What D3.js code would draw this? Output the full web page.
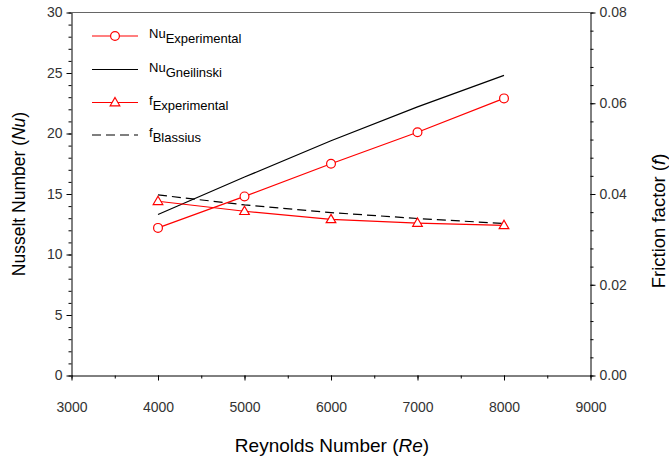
<!DOCTYPE html>
<html><head><meta charset="utf-8">
<script src="https://cdn.jsdelivr.net/npm/d3@7"></script>
<style>body{margin:0;background:#fff}svg{display:block}text{font-family:Arial,"Liberation Sans",sans-serif}</style>
</head><body><svg id="c" width="669" height="457"></svg>
<script>
const reynolds = [4000, 5000, 6000, 7000, 8000];
const nuExperimental = [12.2, 14.8, 17.5, 20.1, 22.9];
const nuGneilinski = [13.3, 16.4, 19.4, 22.2, 24.8];
const fExperimental = [0.0384, 0.0362, 0.0344, 0.0336, 0.0331];
const fBlasius = [0.0398, 0.0376, 0.0359, 0.0346, 0.0335];
const xTicks = [3000, 4000, 5000, 6000, 7000, 8000, 9000];
const nuTicks = [0, 5, 10, 15, 20, 25, 30];
const fTicks = [0, 0.02, 0.04, 0.06, 0.08];

const svg = d3.select("#c");
const L = 71.5, R = 590.5, T = 12.5, B = 375.5;
const x = d3.scaleLinear().domain([3000, 9000]).range([L, R]);
const yN = d3.scaleLinear().domain([0, 30]).range([B, T]);
const yF = d3.scaleLinear().domain([0, 0.08]).range([B, T]);

// top frame
svg.append("line").attr("x1", L).attr("x2", R).attr("y1", T).attr("y2", T).attr("stroke", "#666").attr("stroke-width", 1);

const axisStyle = g => { g.select(".domain").attr("stroke", "#000"); g.selectAll("text").attr("fill", "#333").style("font-size", "14px"); };
// minor ticks
svg.append("g").attr("transform", `translate(${L},0)`).call(d3.axisLeft(yN).tickValues(d3.range(0, 31, 1)).tickSize(3).tickFormat("")).call(g => g.select(".domain").remove());
svg.append("g").attr("transform", `translate(${R},0)`).call(d3.axisRight(yF).tickValues(d3.range(0, 0.0801, 0.004)).tickSize(3).tickFormat("")).call(g => g.select(".domain").remove());
svg.append("g").attr("transform", `translate(0,${B})`).call(d3.axisBottom(x).tickValues(d3.range(3000, 9001, 500)).tickSize(3).tickFormat("")).call(g => g.select(".domain").remove());

svg.append("g").attr("transform", `translate(${L},0)`).call(d3.axisLeft(yN).tickValues(nuTicks).tickSize(5).tickSizeOuter(0).tickPadding(4)).call(axisStyle);
svg.append("g").attr("transform", `translate(${R},0)`).call(d3.axisRight(yF).tickValues(fTicks).tickSize(5).tickSizeOuter(0).tickPadding(4).tickFormat(d3.format(".2f"))).call(axisStyle);
svg.append("g").attr("transform", `translate(0,${B})`).call(d3.axisBottom(x).tickValues(xTicks).tickSize(5).tickSizeOuter(0).tickPadding(22).tickFormat(d3.format("d"))).call(axisStyle);

// titles
const yt = svg.append("text").attr("transform", `translate(24.5,194) rotate(-90)`).attr("text-anchor", "middle").style("font-size", "17.5px").attr("fill", "#000");
yt.append("tspan").text("Nusselt Number (");
yt.append("tspan").text("Nu").style("font-style", "italic");
yt.append("tspan").text(")");
const ft = svg.append("text").attr("transform", `translate(665,221) rotate(-90)`).attr("text-anchor", "middle").style("font-size", "18.5px").attr("fill", "#000");
ft.append("tspan").text("Friction factor (");
ft.append("tspan").text("f").style("font-style", "italic");
ft.append("tspan").text(")");
const xt = svg.append("text").attr("x", 332).attr("y", 452).attr("text-anchor", "middle").style("font-size", "19px").attr("fill", "#000");
xt.append("tspan").text("Reynolds Number (");
xt.append("tspan").text("Re").style("font-style", "italic");
xt.append("tspan").text(")");

// series
const lineN = d3.line().x((d, i) => x(reynolds[i])).y(d => yN(d));
const lineF = d3.line().x((d, i) => x(reynolds[i])).y(d => yF(d));
svg.append("path").attr("d", lineN(nuGneilinski)).attr("fill", "none").attr("stroke", "#000").attr("stroke-width", 1.2);
svg.append("path").attr("d", lineF(fBlasius)).attr("fill", "none").attr("stroke", "#000").attr("stroke-width", 1.2).attr("stroke-dasharray", "9,5");
svg.append("path").attr("d", lineN(nuExperimental)).attr("fill", "none").attr("stroke", "#f00").attr("stroke-width", 1.2);
svg.append("path").attr("d", lineF(fExperimental)).attr("fill", "none").attr("stroke", "#f00").attr("stroke-width", 1.2);

const tri = d3.symbol().type(d3.symbolTriangle).size(40);
svg.selectAll(".cn").data(nuExperimental).join("circle").attr("cx", (d, i) => x(reynolds[i])).attr("cy", d => yN(d)).attr("r", 4.4).attr("fill", "#fff").attr("stroke", "#f00").attr("stroke-width", 1.2);
svg.selectAll(".tf").data(fExperimental).join("path").attr("d", tri).attr("transform", (d, i) => `translate(${x(reynolds[i])},${yF(d) + 0.5})`).attr("fill", "#fff").attr("stroke", "#f00").attr("stroke-width", 1.2);

// legend
const legend = [
  {main: "Nu", sub: "Experimental", color: "#f00", dash: null, marker: "circle"},
  {main: "Nu", sub: "Gneilinski", color: "#000", dash: null, marker: null},
  {main: "f", sub: "Experimental", color: "#f00", dash: null, marker: "tri"},
  {main: "f", sub: "Blassius", color: "#000", dash: "9,5", marker: null}
];
const ly = [36, 69.5, 102.5, 135];
legend.forEach((e, i) => {
  const g = svg.append("g").attr("transform", `translate(0,${ly[i]})`);
  g.append("line").attr("x1", 92).attr("x2", 138).attr("stroke", e.color).attr("stroke-width", 1.2).attr("stroke-dasharray", e.dash);
  if (e.marker === "circle") g.append("circle").attr("cx", 115).attr("r", 4.4).attr("fill", "#fff").attr("stroke", "#f00").attr("stroke-width", 1.2);
  if (e.marker === "tri") g.append("path").attr("d", tri).attr("transform", "translate(115,0.5)").attr("fill", "#fff").attr("stroke", "#f00").attr("stroke-width", 1.2);
  const t = g.append("text").attr("x", 149).attr("y", 0).style("font-size", "13px").attr("fill", "#000");
  t.append("tspan").text(e.main).attr("dy", 2);
  t.append("tspan").text(e.sub).attr("dy", 5);
});
</script></body></html>
